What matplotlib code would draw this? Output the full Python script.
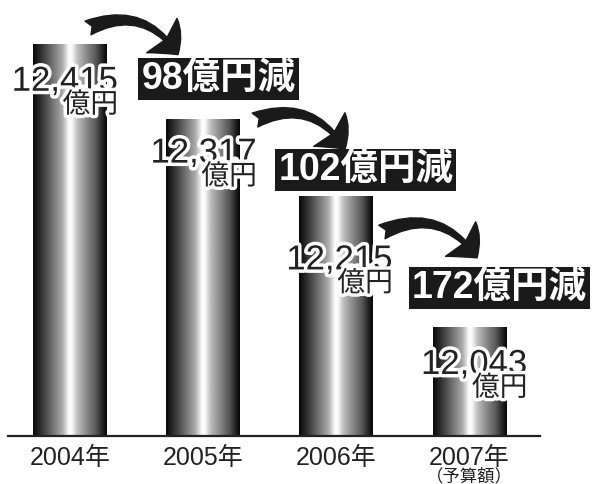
import numpy as np
import matplotlib
matplotlib.use('Agg')
import matplotlib.pyplot as plt
from matplotlib.patches import FancyArrowPatch
import matplotlib.patheffects as pe

# ---- data ----
years = ['2004年', '2005年', '2006年', '2007年']
values = [12415, 12317, 12215, 12043]
value_labels = ['12,415', '12,317', '12,215', '12,043']
unit_label = '億円'
drop_labels = ['98億円減', '102億円減', '172億円減']
sub_label = '（予算額）'

FAM = ['Liberation Sans', 'Noto Sans CJK JP', 'DejaVu Sans']
plt.rcParams['font.family'] = FAM

base = 11900.0
px_per_unit = 0.7613

fig = plt.figure(figsize=(5.93, 4.84), dpi=100)
ax = fig.add_axes([8 / 593, 48 / 484, (540 - 8) / 593, 436 / 484])

x = np.arange(len(values))
bars = ax.bar(x, [v - base for v in values], bottom=base, width=0.555,
              color='none', edgecolor='none')

# horizontal metallic gradient
t = np.linspace(0, 1, 256)
prof = np.interp(t, [0, 0.1, 0.25, 0.4, 0.49, 0.53, 0.6, 0.7, 0.85, 0.95, 1.0],
                 [0.03, 0.18, 0.42, 0.68, 1.0, 0.97, 0.75, 0.58, 0.35, 0.12, 0.03])
grad = prof[np.newaxis, :]
for b in bars:
    x0 = b.get_x()
    im = ax.imshow(grad, cmap='gray', vmin=0, vmax=1, aspect='auto',
                   extent=[x0, x0 + b.get_width(), b.get_y(), b.get_y() + b.get_height()],
                   interpolation='bilinear', zorder=2)
    im.set_clip_path(b)

ax.set_xlim(-0.4655, 3.5285)
ax.set_ylim(base, base + 436 / px_per_unit)

for s in ['top', 'right', 'left']:
    ax.spines[s].set_visible(False)
ax.spines['bottom'].set_linewidth(1.6)
ax.spines['bottom'].set_color('#222222')
ax.set_yticks([])
ax.set_xticks(x)
ax.set_xticklabels(years, fontsize=18, color='#222222')
ax.tick_params(axis='x', length=0, pad=7)

ax.annotate(sub_label, xy=(x[-1], 0), xycoords=('data', 'axes fraction'),
            xytext=(0, -23), textcoords='offset points', ha='center', va='top',
            fontsize=12.5, color='#222222', annotation_clip=False)

# value labels
stroke = [pe.withStroke(linewidth=5, foreground='white')]
label_dx = [8, 12, 14, 15]
label_dy = [-15, -13, -34, -15]
for i, b in enumerate(bars):
    xr = b.get_x() + b.get_width()
    ax.annotate(value_labels[i], xy=(xr, values[i]), xytext=(label_dx[i], label_dy[i]),
                textcoords='offset points', ha='right', va='top', fontsize=25,
                color='#222222', path_effects=stroke, zorder=5)
    ax.annotate(unit_label, xy=(xr, values[i]), xytext=(label_dx[i], label_dy[i] - 20),
                textcoords='offset points', ha='right', va='top', fontsize=20,
                color='#222222', path_effects=stroke, zorder=5)

# curved arrows between bars
arrow_tail = [(0.135, 12436), (1.389, 12315), (2.342, 12168)]
arrow_tip = [(0.811, 12401), (2.065, 12277), (3.056, 12134)]
for a, bpt in zip(arrow_tail, arrow_tip):
    arr = FancyArrowPatch(a, bpt, connectionstyle='arc3,rad=-0.42',
                          arrowstyle='fancy,head_length=0.6,head_width=1.1,tail_width=0.36',
                          mutation_scale=30, color='#1a1a1a', shrinkA=0, shrinkB=0,
                          zorder=4, clip_on=False)
    ax.add_patch(arr)

# drop labels
drop_pos = [(1.115, 12369), (2.222, 12250), (3.221, 12095)]
for (px, py), s in zip(drop_pos, drop_labels):
    ax.text(px, py, s, ha='center', va='center', color='white', fontsize=27,
            fontweight='bold', zorder=6,
            bbox=dict(boxstyle='square,pad=0.08', fc='#1a1a1a', ec='none'))

fig.savefig('out.png', dpi=100)
